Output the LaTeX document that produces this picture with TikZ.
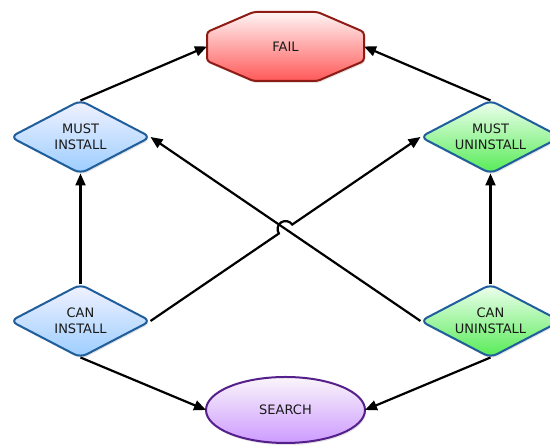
\documentclass[tikz,border=0pt]{standalone}
\usepackage{fontspec}
\setmainfont{DejaVu Sans}
\usetikzlibrary{shapes.geometric,arrows.meta,shadows,calc}
\definecolor{bdblue}{HTML}{1F5E9C}
\definecolor{bdred}{HTML}{8E1B14}
\definecolor{bdpurple}{HTML}{55208C}
\begin{document}
\begin{tikzpicture}[x=1pt,y=1pt,
  lbl/.style={font=\fontsize{13}{16}\selectfont, align=center, text=black!90},
  shad/.style={drop shadow={opacity=0.22,shadow xshift=1pt,shadow yshift=-2pt}},
  dia/.style={lbl, diamond, aspect=2.5, minimum width=140pt, minimum height=73pt, inner sep=0pt, outer sep=0pt,
    rounded corners=7pt, draw=bdblue, line width=2pt, shad},
  bluedia/.style={dia, top color=blue!5!white, bottom color={rgb,255:red,155;green,205;blue,255}},
  greendia/.style={dia, top color=green!6!white, bottom color={rgb,255:red,85;green,235;blue,85}},
  failshape/.style={draw=bdred, line width=2pt, rounded corners=3pt,
    top color=red!4!white, bottom color={rgb,255:red,255;green,88;blue,88}, shad},
  searchshape/.style={lbl, ellipse, minimum width=159pt, minimum height=66pt, inner sep=0pt, outer sep=0pt,
    draw=bdpurple, line width=2pt, top color=violet!4!white,
    bottom color={rgb,255:red,205;green,155;blue,255}, shad},
  conn/.style={line width=2.2pt, -{Triangle[length=12pt,width=10pt]}}
]
\clip (0,0) rectangle (550,446);
\fill[white] (0,0) rectangle (550,446);
% FAIL octagon
\path[failshape, shift={(285.5,399.5)}]
  (-32,34.5) -- (32,34.5) -- (78.5,14.5) -- (78.5,-14.5) -- (32,-34.5)
  -- (-32,-34.5) -- (-78.5,-14.5) -- (-78.5,14.5) -- cycle;
\node[lbl, minimum width=157pt, minimum height=69pt, inner sep=0pt, outer sep=0pt] (fail) at (285.5,399.5) {FAIL};
% diamonds
\node[bluedia] (mi) at (80.5,309) {MUST\\INSTALL};
\node[greendia] (mu) at (490.5,309) {MUST\\UNINSTALL};
\node[bluedia] (ci) at (80.5,125) {CAN\\INSTALL};
\node[greendia] (cu) at (490.5,125) {CAN\\UNINSTALL};
% search
\node[searchshape] (search) at (285.5,36) {SEARCH};
% connectors
\draw[conn] (mi.north) -- (fail.west);
\draw[conn] (mu.north) -- (fail.east);
\draw[conn] (ci.north) -- (mi.south);
\draw[conn] (cu.north) -- (mu.south);
\draw[conn] (cu.west) -- (mi.east);
\coordinate (X) at ($(ci.east)!0.5!(mu.west)$);
\draw[conn] (ci.east) -- ($(X)!8pt!(ci.east)$)
  arc[start angle=213.8, end angle=33.8, radius=8pt] -- (mu.west);
\draw[conn] (ci.south) -- (search.west);
\draw[conn] (cu.south) -- (search.east);
\end{tikzpicture}
\end{document}
